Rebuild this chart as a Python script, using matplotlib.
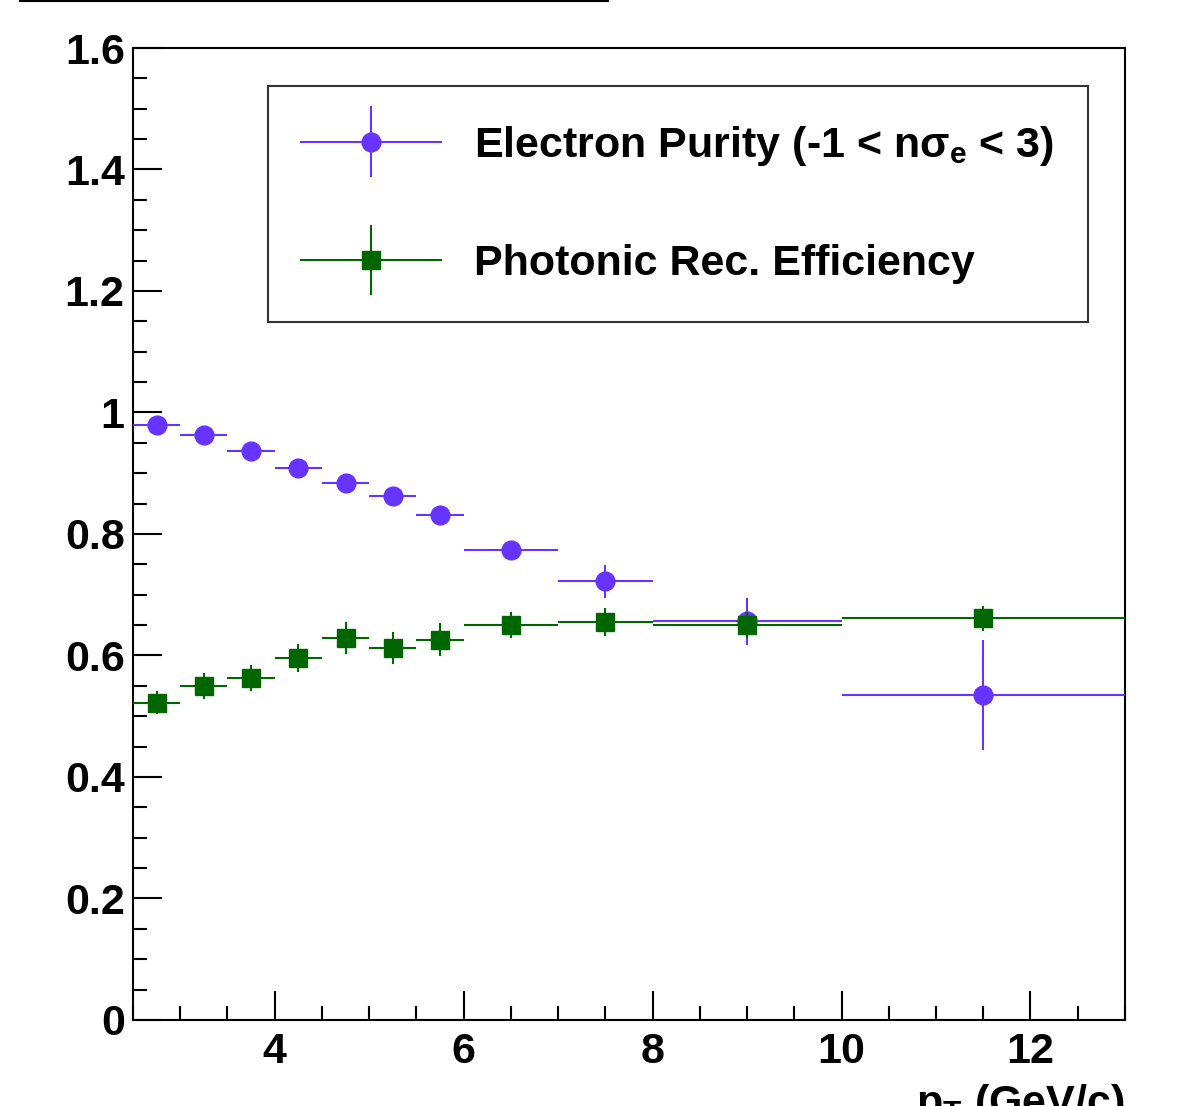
#!/usr/bin/env python3
"""Electron purity and photonic reconstruction efficiency vs pT (ROOT-style)."""

import matplotlib
matplotlib.use("Agg")

import matplotlib.pyplot as plt
from matplotlib.legend_handler import HandlerErrorbar
from matplotlib.lines import Line2D
from matplotlib.ticker import MultipleLocator

plt.rcParams["font.family"] = ["Liberation Sans", "DejaVu Sans"]
plt.rcParams["font.weight"] = "bold"
plt.rcParams["mathtext.fontset"] = "custom"
plt.rcParams["mathtext.rm"] = "Liberation Sans:bold"
plt.rcParams["mathtext.it"] = "Liberation Sans:bold"
plt.rcParams["mathtext.bf"] = "Liberation Sans:bold"

# pT bins (GeV/c)
bin_lo = [2.5, 3.0, 3.5, 4.0, 4.5, 5.0, 5.5, 6.0, 7.0, 8.0, 10.0]
bin_hi = [3.0, 3.5, 4.0, 4.5, 5.0, 5.5, 6.0, 7.0, 8.0, 10.0, 13.0]

purity = [0.979, 0.963, 0.937, 0.908, 0.884, 0.863, 0.831, 0.773, 0.722, 0.656, 0.535]
purity_err = [0.006, 0.006, 0.007, 0.008, 0.008, 0.009, 0.010, 0.012, 0.027, 0.039, 0.090]

phot_eff = [0.522, 0.550, 0.563, 0.596, 0.629, 0.612, 0.626, 0.650, 0.655, 0.650, 0.661]
phot_eff_err = [0.019, 0.021, 0.022, 0.023, 0.026, 0.026, 0.027, 0.022, 0.023, 0.022, 0.020]

label_purity = r"Electron Purity (-1 < n$\sigma_{e}$ < 3)"
label_phot = "Photonic Rec. Efficiency"

PURPLE = "#6633ff"
GREEN = "#006600"

centers = [(a + b) / 2 for a, b in zip(bin_lo, bin_hi)]
half_w = [(b - a) / 2 for a, b in zip(bin_lo, bin_hi)]

fig = plt.figure(figsize=(11.96, 11.06), dpi=100)
ax = fig.add_axes([0.1112, 0.0778, 0.8294, 0.8788])

h_pur = ax.errorbar(centers, purity, xerr=half_w, yerr=purity_err,
                    fmt="o", color=PURPLE, ecolor=PURPLE, elinewidth=1.5,
                    markersize=13.5, capsize=0, label=label_purity, zorder=3)
h_eff = ax.errorbar(centers, phot_eff, xerr=half_w, yerr=phot_eff_err,
                    fmt="s", color=GREEN, ecolor=GREEN, elinewidth=1.5,
                    markersize=13.5, capsize=0, label=label_phot, zorder=4)

ax.set_xlim(2.5, 13.0)
ax.set_ylim(0, 1.6)

ax.xaxis.set_major_locator(MultipleLocator(2))
ax.xaxis.set_minor_locator(MultipleLocator(0.5))
ax.yaxis.set_major_locator(MultipleLocator(0.2))
ax.yaxis.set_minor_locator(MultipleLocator(0.05))

ax.yaxis.set_major_formatter(
    plt.FuncFormatter(lambda v, _: ("%g" % round(v, 2)))
)
ax.xaxis.set_major_formatter(plt.FuncFormatter(lambda v, _: "%d" % v))

ax.tick_params(which="both", direction="in", top=False, right=False,
               width=1.5, color="black", labelsize=31)
ax.tick_params(which="major", length=21)
ax.tick_params(which="minor", length=10)
ax.tick_params(axis="y", pad=6)
ax.tick_params(axis="x", pad=8.5)

for s in ax.spines.values():
    s.set_linewidth(1.5)
    s.set_color("black")

# xpad < 0 pulls the handle a bit to the left inside the legend box
handler = HandlerErrorbar(xerr_size=1.65, yerr_size=0.82, xpad=-0.135)

leg = ax.legend(
    handles=[h_pur, h_eff],
    handler_map={type(h_pur): handler},
    loc="upper left",
    bbox_to_anchor=(0.136, 0.961, 0.827, 0.0),
    mode="expand",
    fontsize=31,
    frameon=True,
    fancybox=False,
    edgecolor="black",
    handlelength=3.17,
    handletextpad=0.74,
    labelspacing=1.77,
    borderpad=0.88,
    borderaxespad=0.0,
)
leg.get_frame().set_linewidth(1.5)

# x axis title, cut at the bottom of the canvas as in the original
fig.text(0.9406, 1 - 1082 / 1106, r"p$_{T}$ (GeV/c)", fontsize=31,
         fontweight="bold", ha="right", va="top")

# edge of the title box at the very top of the canvas
fig.add_artist(Line2D([20 / 1196, 608 / 1196], [1 - 1 / 1106, 1 - 1 / 1106],
                      transform=fig.transFigure, color="black", lw=1.5))

fig.savefig("out.png", dpi=100)
